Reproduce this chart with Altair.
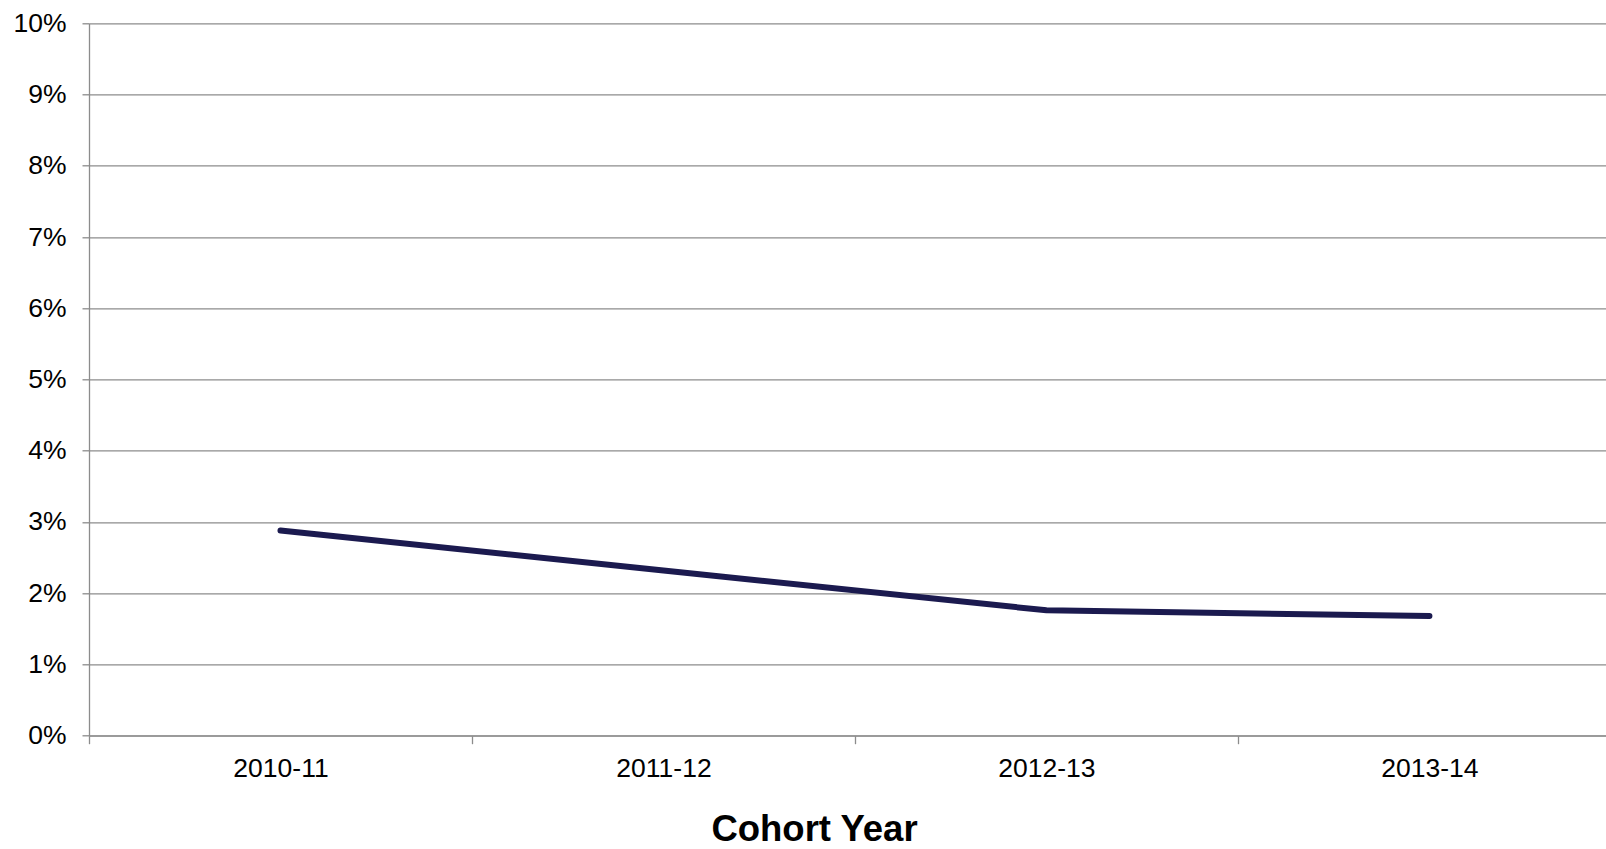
import json

import altair as alt
import pandas as pd

# Share of each cohort, by cohort year
cohorts = ["2010-11", "2011-12", "2012-13", "2013-14"]
rates = [0.0288, 0.0232, 0.0176, 0.0168]

# Percentage gridlines on the value axis
y_ticks = [0.00, 0.01, 0.02, 0.03, 0.04, 0.05, 0.06, 0.07, 0.08, 0.09, 0.10]

df = pd.DataFrame({"cohort": cohorts, "rate": rates, "pos": list(range(len(cohorts)))})

# Categories sit at integer positions; tick marks go on the band boundaries between them
x_values = sorted(list(range(len(cohorts))) + [i - 0.5 for i in range(len(cohorts))])
label_expr = f"datum.value % 1 === 0 ? {json.dumps(cohorts)}[datum.value] : ''"

FONT = "Liberation Sans"
GRID = "#8c8c8c"

line = (
    alt.Chart(df)
    .mark_line(color="#1b1a4f", strokeWidth=6, strokeCap="round", strokeJoin="round")
    .encode(
        x=alt.X(
            "pos:Q",
            scale=alt.Scale(domain=[-0.5, 3.461], nice=False, zero=False),
            axis=alt.Axis(
                values=x_values,
                labelExpr=label_expr,
                grid=False,
                domain=True,
                domainColor=GRID,
                domainWidth=1.3,
                tickColor=GRID,
                tickWidth=1.3,
                tickSize=8,
                tickOpacity={"condition": {"test": "datum.value % 1 !== 0", "value": 1}, "value": 0},
                labelFont=FONT,
                labelFontSize=26.5,
                labelColor="#000000",
                labelPadding=12,
                labelOverlap=False,
                labelFlush=False,
                title="Cohort Year",
                titleFont=FONT,
                titleFontSize=36.5,
                titleFontWeight="bold",
                titleColor="#000000",
                titleAnchor="start",
                titleAlign="center",
                titleBaseline="alphabetic",
                titleX=725,
                titleY=105,
            ),
        ),
        y=alt.Y(
            "rate:Q",
            scale=alt.Scale(domain=[0, 0.1], nice=False),
            axis=alt.Axis(
                values=y_ticks,
                format=".0%",
                grid=True,
                gridColor=GRID,
                gridWidth=1.3,
                domain=True,
                domainColor=GRID,
                domainWidth=1.3,
                tickColor=GRID,
                tickWidth=1.3,
                tickSize=7,
                labelFont=FONT,
                labelFontSize=26.5,
                labelColor="#000000",
                labelPadding=16,
                labelFlush=False,
                title=None,
            ),
        ),
    )
)

chart = (
    line.properties(
        width=1517,
        height=712.4,
        autosize=alt.AutoSizeParams(type="none"),
        padding={"left": 89, "top": 23.3, "right": 0, "bottom": 113.3},
        background="#ffffff",
    )
    .configure_view(stroke=None)
)

chart.save("out.html", embed_options={"renderer": "svg", "actions": False})
